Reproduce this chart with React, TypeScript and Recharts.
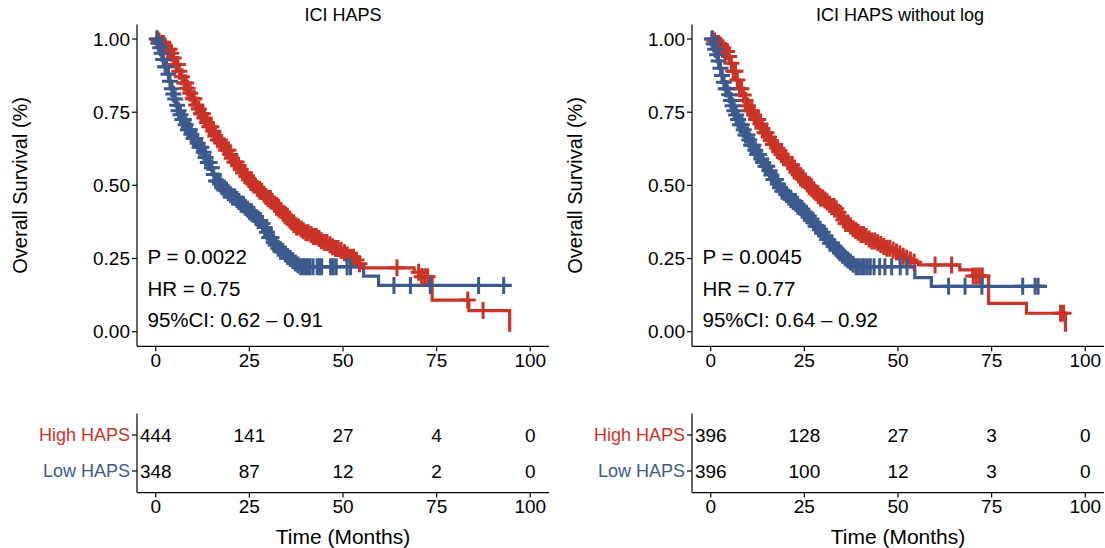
import { ComposedChart, Line, Scatter, XAxis, YAxis } from 'recharts';

const RED = '#CB3327';
const BLUE = '#3D5A8F';
const FONT = '"Liberation Sans", Arial, Helvetica, sans-serif';

const timeTicks = [0, 25, 50, 75, 100];
const survTicks = [0, 0.25, 0.5, 0.75, 1];
const groups = ['High HAPS', 'Low HAPS'];
const rows = [2, 1];

// ICI HAPS — High
const leftHighT = [0, 0.75, 1.5, 2.25, 3, 3.75, 4.5, 5.25, 6, 6.75, 7.5, 8.25, 9, 9.75, 10.5, 11.25, 12, 12.75, 13.5, 14.25, 15, 15.75, 16.5, 17.25, 18, 18.75, 19.5, 20.25, 21, 21.75, 22.5, 23.25, 24, 24.75, 25.5, 26.25, 27, 27.75, 28.5, 29.25, 30, 30.75, 31.5, 32.25, 33, 33.75, 34.5, 35.25, 36, 36.75, 37.5, 38.25, 39, 40, 41, 42, 43, 44, 45, 46, 47, 48, 49, 50, 51, 52, 53, 54, 55, 69, 70.5, 73.8, 83.6, 94.5];
const leftHighS = [1, 0.993, 0.985, 0.976, 0.965, 0.951, 0.935, 0.913, 0.89, 0.871, 0.85, 0.832, 0.815, 0.796, 0.775, 0.761, 0.745, 0.73, 0.715, 0.7, 0.685, 0.669, 0.655, 0.646, 0.635, 0.62, 0.605, 0.593, 0.58, 0.567, 0.555, 0.543, 0.53, 0.52, 0.51, 0.5, 0.49, 0.48, 0.47, 0.462, 0.455, 0.445, 0.435, 0.425, 0.415, 0.405, 0.395, 0.385, 0.375, 0.366, 0.358, 0.351, 0.345, 0.338, 0.332, 0.325, 0.318, 0.311, 0.305, 0.297, 0.29, 0.284, 0.277, 0.27, 0.262, 0.254, 0.245, 0.232, 0.218, 0.203, 0.188, 0.108, 0.072, 0];
const leftHighCens = [0.4, 0.9, 1.6, 2.1, 2.5, 3.2, 3.7, 4.1, 4.8, 5.4, 5.9, 6.3, 7.0, 7.6, 8.1, 8.5, 9.2, 9.9, 10.3, 10.8, 11.5, 12.1, 12.6, 13.0, 13.7, 14.3, 14.8, 15.4, 15.9, 16.6, 17.1, 17.5, 18.2, 18.8, 19.4, 19.9, 20.3, 21.0, 21.6, 22.1, 22.7, 23.3, 23.8, 24.2, 24.9, 25.5, 26.0, 26.4, 27.1, 27.8, 28.3, 28.9, 29.4, 30.0, 30.6, 31.1, 31.7, 32.3, 32.8, 33.4, 34.0, 34.6, 35.1, 35.8, 36.3, 36.9, 37.6, 38.1, 38.8, 39.4, 40.1, 40.7, 41.5, 42.1, 42.9, 43.6, 44.2, 45.0, 45.7, 46.5, 47.2, 48.0, 48.7, 49.5, 50.4, 51.1, 52.0, 52.8, 53.6, 54.4, 64.4, 70.2, 71.0, 71.8, 72.6, 83.3, 87.4];

// ICI HAPS — Low
const leftLowT = [0, 0.5, 1, 1.5, 2, 2.5, 3, 3.5, 4, 4.5, 5, 5.5, 6, 6.5, 7, 7.75, 8.5, 9.25, 10, 10.75, 11.5, 12.25, 13, 13.75, 14.5, 15.25, 16, 16.75, 17.5, 18.25, 19, 19.75, 20.5, 21.25, 22, 22.75, 23.5, 24.25, 25, 25.75, 26.5, 27.25, 28, 28.75, 29.5, 30.25, 31, 31.75, 32.5, 33.25, 34, 34.75, 35.5, 36.25, 37, 37.75, 38.5, 55.5, 59.5, 95];
const leftLowS = [1, 0.986, 0.97, 0.951, 0.93, 0.905, 0.88, 0.856, 0.83, 0.812, 0.795, 0.774, 0.755, 0.741, 0.725, 0.707, 0.69, 0.675, 0.66, 0.644, 0.63, 0.613, 0.595, 0.578, 0.56, 0.537, 0.515, 0.505, 0.495, 0.484, 0.475, 0.468, 0.46, 0.452, 0.445, 0.435, 0.425, 0.418, 0.41, 0.4, 0.39, 0.38, 0.37, 0.356, 0.34, 0.322, 0.305, 0.295, 0.285, 0.275, 0.265, 0.257, 0.25, 0.242, 0.235, 0.228, 0.222, 0.19, 0.158, 0.158];
const leftLowCens = [0.3, 0.7, 1.2, 1.6, 2.0, 2.5, 2.9, 3.4, 3.8, 4.3, 4.7, 5.2, 5.7, 6.1, 6.6, 7.1, 7.5, 8.0, 8.6, 9.1, 9.5, 10.1, 10.6, 11.2, 11.7, 12.2, 12.8, 13.3, 13.9, 14.4, 15.0, 15.5, 16.1, 16.6, 17.2, 17.7, 18.3, 18.9, 19.4, 20.0, 20.5, 21.1, 21.7, 22.2, 22.8, 23.4, 23.9, 24.5, 25.1, 25.6, 26.2, 26.8, 27.4, 27.9, 28.5, 29.1, 29.7, 30.3, 30.9, 31.5, 32.1, 32.7, 33.3, 33.9, 34.6, 35.2, 35.9, 36.6, 37.3, 38.0, 38.7, 39.3, 39.9, 40.5, 41.2, 42.0, 43.1, 43.7, 44.3, 46.7, 47.4, 48.2, 51.1, 52.0, 63.6, 68.0, 73.3, 86.2, 92.9];

// ICI HAPS without log — High
const rightHighT = [0, 0.75, 1.5, 2.25, 3, 3.75, 4.5, 5.25, 6, 6.75, 7.5, 8.25, 9, 9.75, 10.5, 11.25, 12, 12.75, 13.5, 14.25, 15, 15.75, 16.5, 17.25, 18, 18.75, 19.5, 20.25, 21, 21.75, 22.5, 23.25, 24, 24.75, 25.5, 26.25, 27, 27.75, 28.5, 29.25, 30, 30.75, 31.5, 32.25, 33, 33.75, 34.5, 35.25, 36, 36.75, 37.5, 38.25, 39, 40, 41, 42, 43, 44, 45, 46, 47, 48, 49, 50, 51, 52, 53, 54, 55.5, 66.5, 70, 74.2, 84.3, 94.7];
const rightHighS = [1, 0.993, 0.985, 0.978, 0.97, 0.957, 0.94, 0.917, 0.89, 0.86, 0.83, 0.809, 0.79, 0.772, 0.755, 0.74, 0.725, 0.71, 0.695, 0.68, 0.665, 0.652, 0.64, 0.627, 0.615, 0.605, 0.595, 0.583, 0.57, 0.557, 0.545, 0.535, 0.525, 0.515, 0.505, 0.495, 0.485, 0.475, 0.465, 0.457, 0.45, 0.443, 0.435, 0.428, 0.42, 0.408, 0.395, 0.382, 0.37, 0.361, 0.352, 0.346, 0.34, 0.332, 0.325, 0.317, 0.31, 0.304, 0.298, 0.291, 0.285, 0.278, 0.272, 0.265, 0.258, 0.251, 0.245, 0.237, 0.228, 0.211, 0.19, 0.097, 0.063, 0];
const rightHighCens = [0.5, 1.0, 1.6, 2.2, 2.7, 3.3, 3.8, 4.4, 4.9, 5.5, 6.0, 6.6, 7.1, 7.7, 8.2, 8.8, 9.3, 9.9, 10.5, 11.0, 11.6, 12.1, 12.7, 13.3, 13.8, 14.4, 14.9, 15.5, 16.1, 16.6, 17.2, 17.8, 18.3, 18.9, 19.5, 20.0, 20.6, 21.2, 21.7, 22.3, 22.9, 23.5, 24.0, 24.6, 25.2, 25.8, 26.3, 26.9, 27.5, 28.1, 28.7, 29.3, 29.9, 30.5, 31.1, 31.7, 32.3, 32.9, 33.5, 34.1, 34.8, 35.4, 36.0, 36.7, 37.3, 38.0, 38.7, 39.4, 40.1, 40.8, 41.5, 42.3, 43.0, 43.8, 44.6, 45.4, 46.2, 47.0, 47.8, 48.7, 49.6, 50.5, 51.4, 52.3, 53.3, 54.3, 59.9, 64.3, 70.1, 70.9, 71.7, 72.5, 93.4, 94.2];

// ICI HAPS without log — Low
const rightLowT = [0, 0.5, 1, 1.5, 2, 2.5, 3, 3.5, 4, 4.5, 5, 5.5, 6, 6.5, 7, 7.75, 8.5, 9.25, 10, 10.75, 11.5, 12.25, 13, 13.75, 14.5, 15.25, 16, 16.75, 17.5, 18.25, 19, 19.75, 20.5, 21.25, 22, 22.75, 23.5, 24.25, 25, 25.75, 26.5, 27.25, 28, 28.75, 29.5, 30.25, 31, 31.75, 32.5, 33.25, 34, 34.75, 35.5, 36.25, 37, 37.75, 38.5, 54.5, 58.9, 89.8];
const rightLowS = [1, 0.983, 0.965, 0.946, 0.925, 0.9, 0.875, 0.852, 0.83, 0.81, 0.79, 0.772, 0.755, 0.74, 0.725, 0.707, 0.69, 0.672, 0.655, 0.637, 0.62, 0.605, 0.59, 0.578, 0.565, 0.55, 0.535, 0.52, 0.505, 0.492, 0.48, 0.47, 0.46, 0.452, 0.445, 0.435, 0.425, 0.415, 0.405, 0.395, 0.385, 0.372, 0.36, 0.35, 0.34, 0.328, 0.315, 0.302, 0.29, 0.28, 0.27, 0.261, 0.252, 0.245, 0.238, 0.23, 0.222, 0.185, 0.155, 0.155];
const rightLowCens = [0.3, 0.8, 1.2, 1.7, 2.1, 2.6, 3.0, 3.5, 4.0, 4.4, 4.9, 5.4, 5.8, 6.3, 6.8, 7.3, 7.8, 8.3, 8.8, 9.3, 9.8, 10.3, 10.8, 11.4, 11.9, 12.4, 12.9, 13.5, 14.0, 14.6, 15.1, 15.7, 16.2, 16.8, 17.4, 17.9, 18.5, 19.1, 19.6, 20.2, 20.8, 21.4, 22.0, 22.6, 23.2, 23.8, 24.4, 25.0, 25.6, 26.2, 26.8, 27.4, 28.0, 28.6, 29.2, 29.9, 30.5, 31.1, 31.8, 32.4, 33.1, 33.8, 34.5, 35.2, 35.9, 36.6, 37.3, 38.0, 38.8, 39.5, 40.3, 41.0, 41.8, 42.6, 43.6, 45.1, 46.5, 48.3, 50.6, 52.4, 63.5, 67.9, 72.4, 83.3, 86.6, 87.4];

// numbers at risk
const leftHighRisk = [444, 141, 27, 4, 0];
const leftLowRisk = [348, 87, 12, 2, 0];
const rightHighRisk = [396, 128, 27, 3, 0];
const rightLowRisk = [396, 100, 12, 3, 0];

const leftStats = ['P = 0.0022', 'HR = 0.75', '95%CI: 0.62 \u2013 0.91'];
const rightStats = ['P = 0.0045', 'HR = 0.77', '95%CI: 0.64 \u2013 0.92'];

const toSteps = (t: number[], s: number[]) => t.map((x, i) => ({ t: x, s: s[i] }));

const survAt = (t: number[], s: number[], x: number) => {
  let v = s[0];
  for (let i = 0; i < t.length; i++) if (t[i] <= x) v = s[i];
  return v;
};

const toCensor = (t: number[], s: number[], c: number[]) => c.map((x) => ({ t: x, s: survAt(t, s, x) }));

const riskRows = (high: number[], low: number[]) => [
  ...timeTicks.map((t, i) => ({ t, row: rows[0], n: high[i] })),
  ...timeTicks.map((t, i) => ({ t, row: rows[1], n: low[i] })),
];

const plus = (color: string) => (props: any) => {
  const { cx, cy } = props;
  if (cx == null || cy == null) return <g />;
  return (
    <g stroke={color} strokeWidth={3}>
      <line x1={cx - 8} x2={cx + 8} y1={cy} y2={cy} />
      <line x1={cx} x2={cx} y1={cy - 8.5} y2={cy + 8.5} />
    </g>
  );
};

const riskText = (props: any) => {
  const { cx, cy, payload } = props;
  if (cx == null || cy == null) return <g />;
  return (
    <text x={cx} y={cy} dy="0.36em" textAnchor="middle" fontSize={19} fontFamily={FONT} fill="#000">
      {payload.n}
    </text>
  );
};

const RowTick = (props: any) => {
  const { x, y, payload } = props;
  const i = payload.value === rows[0] ? 0 : 1;
  return (
    <text x={x} y={y} dy="0.36em" textAnchor="end" fontSize={18} fontFamily={FONT} fill={i === 0 ? RED : BLUE}>
      {groups[i]}
    </text>
  );
};

const axisProps = {
  stroke: '#000',
  strokeWidth: 1.2,
  tickSize: 5,
  tick: { fontSize: 19, fill: '#000', fontFamily: FONT },
};

interface SurvProps {
  left: number;
  width: number;
  title: string;
  titleX: number;
  stats: string[];
  high: { t: number; s: number }[];
  low: { t: number; s: number }[];
  highCens: { t: number; s: number }[];
  lowCens: { t: number; s: number }[];
}

function SurvPanel({ left, width, title, titleX, stats, high, low, highCens, lowCens }: SurvProps) {
  return (
    <>
      <div style={{ position: 'absolute', left: titleX - 150, top: 4, width: 300, textAlign: 'center', fontSize: 18, lineHeight: '22px' }}>
        {title}
      </div>
      <div style={{ position: 'absolute', left, top: 0 }}>
        <ComposedChart width={width} height={380} margin={{ top: 24.4, right: width - 412 - 137, bottom: 3.7, left: 0 }}>
          <XAxis
            type="number"
            dataKey="t"
            domain={[-5, 105]}
            ticks={timeTicks}
            allowDataOverflow
            height={30}
            {...axisProps}
          />
          <YAxis
            type="number"
            dataKey="s"
            domain={[-0.05, 1.05]}
            ticks={survTicks}
            allowDataOverflow
            width={137}
            tickFormatter={(v: number) => v.toFixed(2)}
            label={{ value: 'Overall Survival (%)', angle: -90, position: 'insideLeft', offset: 20, style: { textAnchor: 'middle', fontSize: 20, fill: '#000', fontFamily: FONT } }}
            {...axisProps}
          />
          <Line data={low} dataKey="s" type="stepAfter" stroke={BLUE} strokeWidth={3.2} dot={false} isAnimationActive={false} />
          <Line data={high} dataKey="s" type="stepAfter" stroke={RED} strokeWidth={3.2} dot={false} isAnimationActive={false} />
          <Scatter data={highCens} dataKey="s" shape={plus(RED)} isAnimationActive={false} />
          <Scatter data={lowCens} dataKey="s" shape={plus(BLUE)} isAnimationActive={false} />
        </ComposedChart>
      </div>
      {stats.map((s, i) => (
        <div key={s} style={{ position: 'absolute', left: left + 147.5, top: 245 + i * 31.5, fontSize: 20.5, lineHeight: '24px', whiteSpace: 'nowrap' }}>
          {s}
        </div>
      ))}
    </>
  );
}

function RiskPanel({ left, width, data }: { left: number; width: number; data: { t: number; row: number; n: number }[] }) {
  return (
    <div style={{ position: 'absolute', left, top: 390 }}>
      <ComposedChart width={width} height={158} margin={{ top: 23.4, right: width - 412 - 137, bottom: 0.4, left: 0 }}>
        <XAxis
          type="number"
          dataKey="t"
          domain={[-5, 105]}
          ticks={timeTicks}
          allowDataOverflow
          height={55}
          label={{ value: 'Time (Months)', position: 'insideBottom', offset: 4, style: { fontSize: 21, fill: '#000', fontFamily: FONT } }}
          {...axisProps}
        />
        <YAxis
          type="number"
          dataKey="row"
          domain={[0.4, 2.6]}
          ticks={rows}
          width={137}
          {...axisProps}
          tick={<RowTick />}
        />
        <Scatter data={data} dataKey="row" shape={riskText} isAnimationActive={false} />
      </ComposedChart>
    </div>
  );
}

export default function App() {
  return (
    <div style={{ position: 'absolute', left: 0, top: 0, width: 1105, height: 548, background: '#fff', fontFamily: FONT, color: '#000', overflow: 'hidden' }}>
      <SurvPanel
        left={0}
        width={560}
        title="ICI HAPS"
        titleX={343}
        stats={leftStats}
        high={toSteps(leftHighT, leftHighS)}
        low={toSteps(leftLowT, leftLowS)}
        highCens={toCensor(leftHighT, leftHighS, leftHighCens)}
        lowCens={toCensor(leftLowT, leftLowS, leftLowCens)}
      />
      <SurvPanel
        left={555}
        width={550}
        title="ICI HAPS without log"
        titleX={900}
        stats={rightStats}
        high={toSteps(rightHighT, rightHighS)}
        low={toSteps(rightLowT, rightLowS)}
        highCens={toCensor(rightHighT, rightHighS, rightHighCens)}
        lowCens={toCensor(rightLowT, rightLowS, rightLowCens)}
      />
      <RiskPanel left={0} width={560} data={riskRows(leftHighRisk, leftLowRisk)} />
      <RiskPanel left={555} width={550} data={riskRows(rightHighRisk, rightLowRisk)} />
    </div>
  );
}
